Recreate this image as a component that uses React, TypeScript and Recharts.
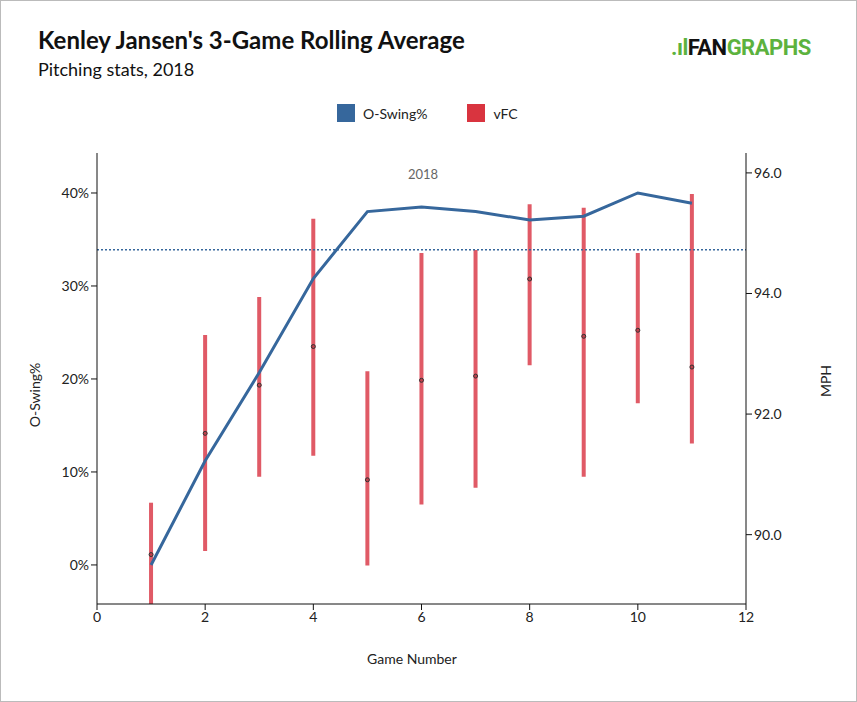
import React from "react";
import { ComposedChart, Line, Bar, Scatter, XAxis, YAxis, ReferenceLine } from "recharts";

const games = [1, 2, 3, 4, 5, 6, 7, 8, 9, 10, 11];
const oSwing = [0, 11.2, 20.7, 30.8, 38.0, 38.5, 38.0, 37.1, 37.5, 40.0, 38.9];
const vfcAvg = [89.67, 91.68, 92.48, 93.12, 90.91, 92.56, 92.63, 94.24, 93.29, 93.39, 92.78];
const vfcHigh = [90.53, 93.31, 93.94, 95.24, 92.71, 94.67, 94.72, 95.48, 95.42, 94.67, 95.65];
const vfcLow = [88.85, 89.73, 90.96, 91.31, 89.49, 90.5, 90.78, 92.81, 90.96, 92.18, 91.51];
const leagueAvg = 33.9;
const xTicks = [0, 2, 4, 6, 8, 10, 12];
const leftTicks = [0, 10, 20, 30, 40];
const rightTicks = [90, 92, 94, 96];

const data = games.map((g, i) => ({
  game: g,
  oSwing: oSwing[i],
  vfc: vfcAvg[i],
  range: [vfcLow[i], vfcHigh[i]],
}));

const font = "Lato, sans-serif";
const tick = { fill: "#222", fontSize: 14, fontFamily: font };

const Dot = (p: any) => (
  <circle cx={p.cx} cy={p.cy} r={2} fill="#c0404c" stroke="#333" strokeWidth={1} />
);

export default function App() {
  return (
    <div style={{ position: "relative", width: 855, height: 700, border: "1px solid #bbb", background: "#fff", fontFamily: font }}>
      <style>{"body{margin:0}"}</style>
      <div style={{ position: "absolute", left: 37, top: 24, fontSize: 24, fontWeight: 700, color: "#111" }}>
        Kenley Jansen's 3-Game Rolling Average
      </div>
      <div style={{ position: "absolute", left: 37, top: 57, fontSize: 18, color: "#111" }}>Pitching stats, 2018</div>
      <div style={{ position: "absolute", left: 670, top: 34, fontSize: 22, fontWeight: 700, fontFamily: "Roboto, sans-serif", letterSpacing: -0.5 }}>
        <span style={{ color: "#5cb23e" }}>.ıl</span><span style={{ color: "#111" }}>FAN</span><span style={{ color: "#5cb23e" }}>GRAPHS</span>
      </div>
      <div style={{ position: "absolute", left: 336, top: 103, display: "flex", alignItems: "center", fontSize: 14, color: "#222" }}>
        <span style={{ width: 18, height: 18, background: "#36679c", marginRight: 8 }} />O-Swing%
        <span style={{ width: 18, height: 18, background: "#d9343f", margin: "0 8px 0 40px" }} />vFC
      </div>
      <div style={{ position: "absolute", left: 407, top: 165, fontSize: 13, color: "#666" }}>2018</div>
      <div style={{ position: "absolute", left: 366, top: 649, fontSize: 14, color: "#222" }}>Game Number</div>
      <div style={{ position: "absolute", left: 33, top: 394, fontSize: 14, color: "#222", transform: "translate(-50%,-50%) rotate(-90deg)" }}>O-Swing%</div>
      <div style={{ position: "absolute", left: 824, top: 380, fontSize: 14, color: "#222", transform: "translate(-50%,-50%) rotate(-90deg)" }}>MPH</div>
      <ComposedChart width={855} height={700} data={data} margin={{ top: 152, left: 36, right: 0, bottom: 37 }} style={{ position: "absolute", left: 0, top: 0 }}>
        <XAxis dataKey="game" type="number" domain={[0, 12]} ticks={xTicks} height={60} tick={tick} stroke="#111" tickSize={6} />
        <YAxis yAxisId="l" domain={[-4.2, 44.3]} ticks={leftTicks} tickFormatter={(v) => v + "%"} width={60} tick={tick} stroke="#111" allowDataOverflow />
        <YAxis yAxisId="r" orientation="right" domain={[88.85, 96.33]} ticks={rightTicks} tickFormatter={(v) => v.toFixed(1)} width={110} tick={tick} stroke="#111" allowDataOverflow />
        <ReferenceLine yAxisId="l" y={leagueAvg} stroke="#36679c" strokeDasharray="2 2" strokeWidth={1.5} />
        <Bar yAxisId="r" dataKey="range" fill="#e05a66" barSize={4} isAnimationActive={false} />
        <Line yAxisId="l" type="linear" dataKey="oSwing" stroke="#36679c" strokeWidth={3} dot={false} isAnimationActive={false} />
        <Scatter yAxisId="r" dataKey="vfc" shape={<Dot />} isAnimationActive={false} />
      </ComposedChart>
    </div>
  );
}
